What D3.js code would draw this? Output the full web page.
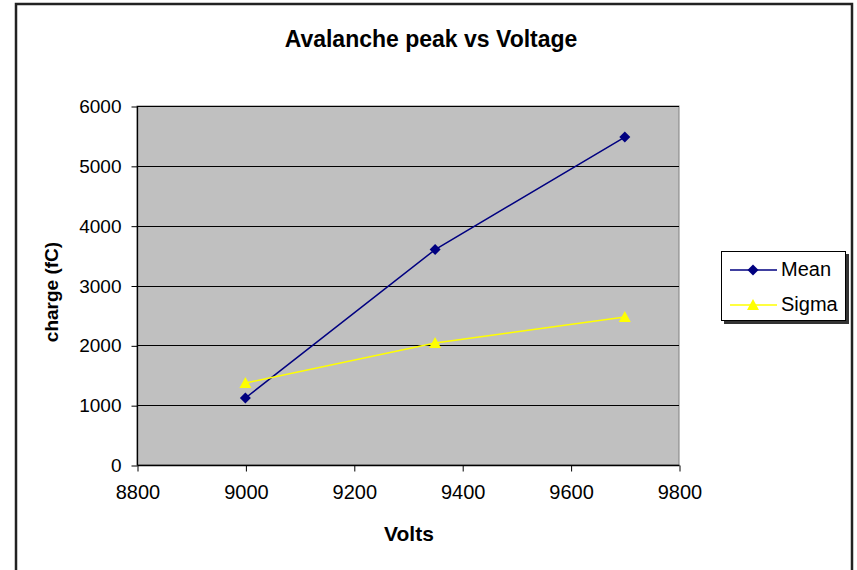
<!DOCTYPE html>
<html><head><meta charset="utf-8">
<script src="https://cdn.jsdelivr.net/npm/d3@7"></script>
<style>body{margin:0;background:#fff}svg{display:block}text{font-family:"Liberation Sans",Arial,sans-serif}</style>
</head><body>
<svg id="c" width="857" height="570"></svg>
<script>
const volts = [9000, 9350, 9700];
const meanValues = [1120, 3600, 5480];
const sigmaValues = [1370, 2040, 2475];
const xTicks = [8800, 9000, 9200, 9400, 9600, 9800];
const yTicks = [0, 1000, 2000, 3000, 4000, 5000, 6000];
const seriesNames = ["Mean", "Sigma"];

const svg = d3.select("#c");
const L = 137, R = 679, T = 106, B = 465;
const x = d3.scaleLinear().domain([8800, 9800]).range([L, R]);
const y = d3.scaleLinear().domain([0, 6000]).range([B, T]);
const FF = '"Liberation Sans",Arial,sans-serif';

// outer border
svg.append("path").attr("d", "M16,570 V4 H852 V570").attr("fill", "none").attr("stroke", "#222").attr("stroke-width", 2.5);

// plot area
svg.append("rect").attr("x", L).attr("y", T).attr("width", R - L).attr("height", B - T)
  .attr("fill", "#c0c0c0").attr("stroke", "#808080").attr("stroke-width", 1);

// gridlines
svg.append("g").selectAll("line").data(yTicks.filter(d => d > 0)).join("line")
  .attr("x1", L).attr("x2", R).attr("y1", d => Math.round(y(d)) + 0.5).attr("y2", d => Math.round(y(d)) + 0.5)
  .attr("stroke", "#000").attr("stroke-width", 1);

// axes
const yAxis = d3.axisLeft(y).tickValues(yTicks).tickSize(6).tickPadding(10).tickFormat(d3.format("d"));
const gy = svg.append("g").attr("transform", `translate(${L + 0.5},0.5)`).call(yAxis);
gy.select(".domain").attr("stroke", "#000").attr("d", `M0,${B}V${T}`);
gy.selectAll(".tick line").attr("stroke", "#000");
gy.selectAll("text").attr("font-size", 19).attr("fill", "#000").style("font-family", FF);

const xAxis = d3.axisBottom(x).tickValues(xTicks).tickSize(6).tickPadding(13).tickFormat(d3.format("d"));
const gx = svg.append("g").attr("transform", `translate(0.5,${B + 0.5})`).call(xAxis);
gx.select(".domain").attr("stroke", "#000").attr("d", `M${L},0H${R}`);
gx.selectAll(".tick line").attr("stroke", "#000");
gx.selectAll("text").attr("font-size", 20).attr("fill", "#000").style("font-family", FF);
svg.selectAll(".domain").attr("stroke-width", 1.3);

// lines
const line = d3.line().x(d => x(d[0])).y(d => y(d[1]));
const meanPts = volts.map((v, i) => [v, meanValues[i]]);
const sigmaPts = volts.map((v, i) => [v, sigmaValues[i]]);
const navy = "#000080", yel = "#ffff00";
svg.append("path").attr("d", line(meanPts)).attr("fill", "none").attr("stroke", navy).attr("stroke-width", 1.5);
svg.append("path").attr("d", line(sigmaPts)).attr("fill", "none").attr("stroke", yel).attr("stroke-width", 1.5);

const diamond = "M0,-5.5L5.5,0L0,5.5L-5.5,0Z";
const tri = "M0,-6L6,5L-6,5Z";
svg.append("g").selectAll("path").data(sigmaPts).join("path")
  .attr("d", tri).attr("fill", yel).attr("transform", d => `translate(${x(d[0])},${y(d[1])})`);
svg.append("g").selectAll("path").data(meanPts).join("path")
  .attr("d", diamond).attr("fill", navy).attr("transform", d => `translate(${x(d[0])},${y(d[1])})`);

// titles
svg.append("text").attr("x", 431).attr("y", 47).attr("text-anchor", "middle")
  .attr("font-size", 23).attr("font-weight", "bold").text("Avalanche peak vs Voltage");
svg.append("text").attr("x", 409).attr("y", 541).attr("text-anchor", "middle")
  .attr("font-size", 21).attr("font-weight", "bold").text("Volts");
svg.append("text").attr("transform", "translate(58,292) rotate(-90)").attr("text-anchor", "middle")
  .attr("font-size", 19).attr("font-weight", "bold").text("charge (fC)");

// legend
const lg = svg.append("g");
lg.append("rect").attr("x", 724).attr("y", 254).attr("width", 125).attr("height", 70).attr("fill", "#333");
lg.append("rect").attr("x", 721.5).attr("y", 251.5).attr("width", 124).attr("height", 69).attr("fill", "#fff").attr("stroke", "#000").attr("stroke-width", 1);
const items = [{n: seriesNames[0], c: navy, s: diamond}, {n: seriesNames[1], c: yel, s: tri}];
items.forEach((it, i) => {
  const yy = 270 + i * 35;
  lg.append("line").attr("x1", 730).attr("x2", 777).attr("y1", yy).attr("y2", yy).attr("stroke", it.c).attr("stroke-width", 1.5);
  lg.append("path").attr("d", it.s).attr("fill", it.c).attr("transform", `translate(753,${yy})`);
  lg.append("text").attr("x", 781).attr("y", yy + 6).attr("font-size", 20).text(it.n);
});
</script>
</body></html>
